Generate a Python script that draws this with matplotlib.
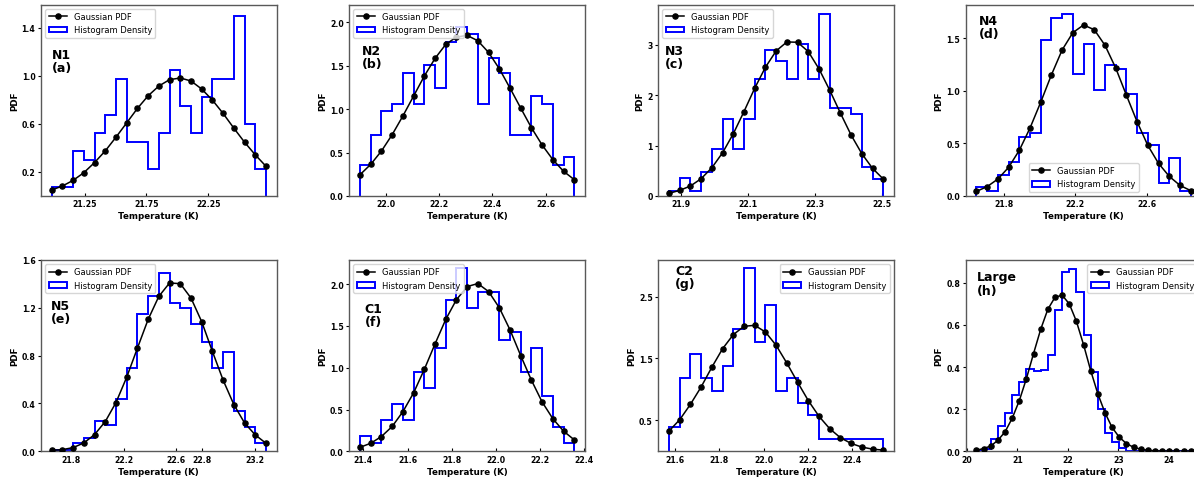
import numpy as np
import matplotlib
matplotlib.use("Agg")
import matplotlib.pyplot as plt

# --- Data (densities per bin, Gaussian PDF at bin edges) ---

names = ["N1\n(a)", "N2\n(b)", "N3\n(c)", "N4\n(d)",
         "N5\n(e)", "C1\n(f)", "C2\n(g)", "Large\n(h)"]

# first / last bin edge of each histogram (K)
x_ranges = [(20.984, 22.718), (21.904, 22.708), (21.863, 22.505), (21.645, 22.847),
            (21.650, 23.285), (21.385, 22.355), (21.571, 22.543), (20.190, 24.430)]

a_hist = [0.075, 0.075, 0.375, 0.30, 0.525, 0.675, 0.975, 0.45, 0.45, 0.225,
          0.525, 1.05, 0.75, 0.525, 0.825, 0.975, 0.975, 1.5, 0.6, 0.225]
a_pdf = [0.05, 0.083, 0.13, 0.194, 0.278, 0.375, 0.489, 0.608, 0.728, 0.833, 0.914,
         0.967, 0.981, 0.956, 0.889, 0.797, 0.686, 0.564, 0.447, 0.342, 0.247]

b_hist = [0.36, 0.705, 0.973, 1.061, 1.418, 1.061, 1.502, 1.238, 1.770, 1.946,
          1.858, 1.061, 1.59, 1.414, 0.705, 0.705, 1.149, 1.061, 0.36, 0.444]
b_pdf = [0.245, 0.364, 0.517, 0.705, 0.920, 1.149, 1.379, 1.582, 1.743, 1.828, 1.847,
         1.785, 1.651, 1.464, 1.241, 1.011, 0.785, 0.586, 0.418, 0.284, 0.188]

c_hist = [0.105, 0.349, 0.105, 0.468, 0.929, 1.516, 0.929, 1.516, 2.32, 2.90,
          2.676, 2.32, 3.02, 2.32, 3.60, 1.747, 1.747, 1.628, 0.58, 0.343]
c_pdf = [0.053, 0.112, 0.198, 0.343, 0.560, 0.857, 1.233, 1.674, 2.136, 2.551, 2.874,
         3.052, 3.046, 2.861, 2.518, 2.096, 1.641, 1.206, 0.837, 0.547, 0.336]

d_hist = [0.082, 0.044, 0.203, 0.323, 0.566, 0.604, 1.487, 1.690, 1.731, 1.161,
          1.449, 1.006, 1.25, 1.209, 0.968, 0.604, 0.487, 0.120, 0.361, 0.044]
d_pdf = [0.044, 0.089, 0.161, 0.272, 0.434, 0.646, 0.892, 1.152, 1.389, 1.554, 1.627,
         1.582, 1.434, 1.218, 0.959, 0.706, 0.481, 0.310, 0.187, 0.101, 0.051]

e_hist = [0.01, 0.01, 0.067, 0.115, 0.254, 0.218, 0.436, 0.696, 1.151, 1.302,
          1.489, 1.237, 1.201, 1.067, 0.911, 0.696, 0.827, 0.338, 0.204, 0.067]
e_pdf = [0.008, 0.014, 0.031, 0.070, 0.140, 0.249, 0.408, 0.620, 0.863, 1.103, 1.296,
         1.408, 1.402, 1.282, 1.084, 0.835, 0.595, 0.391, 0.237, 0.137, 0.067]

f_hist = [0.189, 0.096, 0.378, 0.570, 0.378, 0.952, 0.763, 1.237, 1.811, 2.193,
          1.711, 1.904, 1.904, 1.333, 1.430, 0.952, 1.237, 0.667, 0.285, 0.096]
f_pdf = [0.048, 0.096, 0.177, 0.297, 0.474, 0.699, 0.980, 1.285, 1.578, 1.815, 1.972,
         2.008, 1.912, 1.719, 1.454, 1.145, 0.851, 0.590, 0.390, 0.241, 0.137]

g_hist = [0.392, 1.186, 1.576, 1.186, 0.981, 1.376, 1.970, 2.954, 1.770, 2.359,
          0.981, 1.186, 0.787, 0.592, 0.197, 0.197, 0.197, 0.197, 0.197, 0.197]
g_pdf = [0.327, 0.511, 0.759, 1.04, 1.359, 1.657, 1.884, 2.019, 2.035, 1.927, 1.711,
         1.424, 1.116, 0.819, 0.565, 0.365, 0.219, 0.127, 0.068, 0.035, 0.019]

h_hist = [0.003, 0.01, 0.06, 0.118, 0.18, 0.267, 0.331, 0.39, 0.38, 0.385,
          0.455, 0.669, 0.852, 0.866, 0.757, 0.553, 0.378, 0.2, 0.087, 0.046,
          0.016, 0.003, 0.002, 0.001, 0.001, 0.0, 0.001, 0.0, 0.0, 0.001]
h_pdf = [0.005, 0.013, 0.025, 0.052, 0.092, 0.156, 0.240, 0.345, 0.464, 0.579, 0.674,
         0.731, 0.741, 0.700, 0.617, 0.506, 0.383, 0.273, 0.183, 0.113, 0.067,
         0.037, 0.019, 0.010, 0.005, 0.002, 0.001, 0.0005, 0.0002, 0.0001, 0.00004]

hists = [a_hist, b_hist, c_hist, d_hist, e_hist, f_hist, g_hist, h_hist]
pdfs = [a_pdf, b_pdf, c_pdf, d_pdf, e_pdf, f_pdf, g_pdf, h_pdf]

y_tops = [1.59, 2.2, 3.79, 1.82, 1.6, 2.29, 3.09, 0.908]

x_ticks = [[21.25, 21.75, 22.25], [22.0, 22.2, 22.4, 22.6], [21.9, 22.1, 22.3, 22.5],
           [21.8, 22.2, 22.6], [21.8, 22.2, 22.6, 22.8, 23.2],
           [21.4, 21.6, 21.8, 22.0, 22.2, 22.4], [21.6, 21.8, 22.0, 22.2, 22.4],
           [20, 21, 22, 23, 24]]
x_fmt = ["%.2f", "%.1f", "%.1f", "%.1f", "%.1f", "%.1f", "%.1f", "%d"]

y_ticks = [[0.2, 0.6, 1.0, 1.4], [0.0, 0.5, 1.0, 1.5, 2.0], [0, 1, 2, 3],
           [0.0, 0.5, 1.0, 1.5], [0.0, 0.4, 0.8, 1.2, 1.6], [0.0, 0.5, 1.0, 1.5, 2.0],
           [0.5, 1.5, 2.5], [0.0, 0.2, 0.4, 0.6, 0.8]]
y_fmt = ["%.1f", "%.1f", "%d", "%.1f", "%.1f", "%.1f", "%.1f", "%.1f"]

legend_locs = ["upper left", "upper left", "upper left", "lower center",
               "upper left", "upper left", "upper right", "upper right"]

# panel label position (axes fraction, top-left of text)
label_pos = [(0.048, 0.775), (0.053, 0.797), (0.026, 0.797), (0.058, 0.953),
             (0.043, 0.798), (0.064, 0.781), (0.071, 0.981), (0.049, 0.946)]

# --- Layout (pixels of the 1194x481 canvas) ---
W, H = 1194, 481
col_left = [41, 349.3, 658.3, 965.7]
ax_w = 235.7
row_top = [5.7, 261]
ax_h = 191.3

fig = plt.figure(figsize=(W / 100, H / 100), dpi=100)

for i in range(8):
    r, c = divmod(i, 4)
    ax = fig.add_axes([col_left[c] / W, 1 - (row_top[r] + ax_h) / H, ax_w / W, ax_h / H])

    edges = np.linspace(x_ranges[i][0], x_ranges[i][1], len(hists[i]) + 1)

    ax.plot(edges, pdfs[i], '-o', color='black', lw=1.1, ms=3.7,
            label='Gaussian PDF', zorder=3)
    ax.hist(edges[:-1], bins=edges, weights=hists[i], histtype='step',
            color='blue', lw=1.4, label='Histogram Density', zorder=2)

    span = edges[-1] - edges[0]
    ax.set_xlim(edges[0] - 0.05 * span, edges[-1] + 0.05 * span)
    ax.set_ylim(0, y_tops[i])

    ax.set_xticks(x_ticks[i])
    ax.set_xticklabels([x_fmt[i] % v for v in x_ticks[i]])
    ax.set_yticks(y_ticks[i])
    ax.set_yticklabels([y_fmt[i] % v for v in y_ticks[i]])

    ax.tick_params(axis='x', direction='in', length=2.5, width=0.8, pad=2.5, labelsize=5.6)
    ax.tick_params(axis='y', direction='out', length=2.5, width=0.8, pad=1.5, labelsize=5.6)
    for lab in ax.get_xticklabels() + ax.get_yticklabels():
        lab.set_fontweight('bold')

    for sp in ax.spines.values():
        sp.set_color('0.35')
        sp.set_linewidth(1.0)

    ax.set_xlabel('Temperature (K)', fontsize=6.3, fontweight='bold', labelpad=2)
    ax.set_ylabel('PDF', fontsize=6.3, fontweight='bold', labelpad=2)

    ax.text(label_pos[i][0], label_pos[i][1], names[i], transform=ax.transAxes,
            ha='left', va='top', fontsize=9, fontweight='bold', linespacing=1.05)

    ax.legend(loc=legend_locs[i], fontsize=6, handlelength=2.2)

fig.savefig('out.png', dpi=100)
